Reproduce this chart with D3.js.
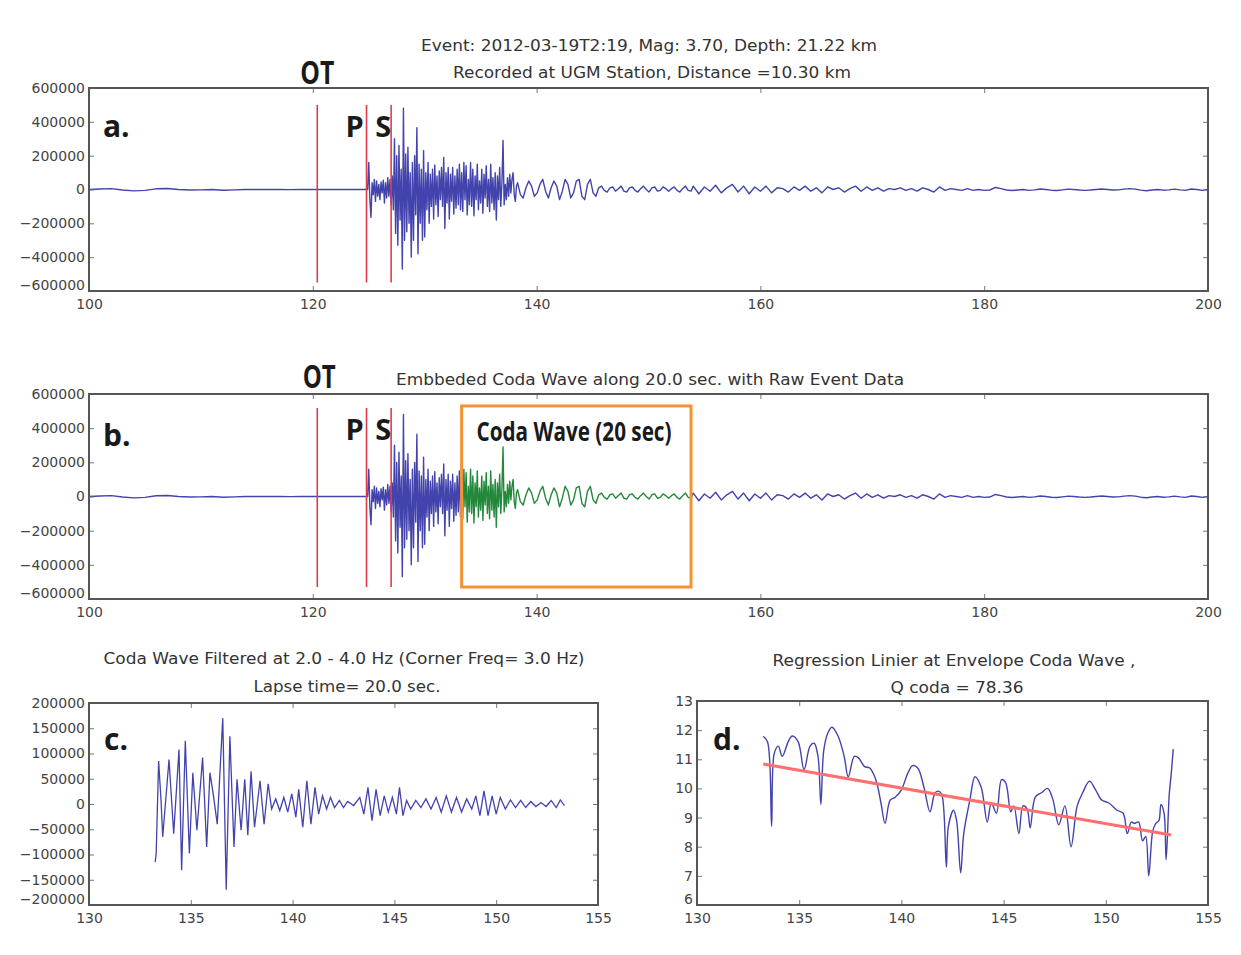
<!DOCTYPE html>
<html>
<head>
<meta charset="utf-8">
<script src="https://cdn.jsdelivr.net/npm/d3@7"></script>
<style>
  body { margin: 0; background: #fff; }
  text { font-family: "DejaVu Sans", sans-serif; }
</style>
</head>
<body>
<script>
// raw trace, split in pieces with their own sample step
const preEvent = [0, 3000, 5000, -3000, -8000, -5000, 4000, 6000, 0, -3000,
  -2000, 0, -4000, -2000, 0, 0, 1000, 0, -1000, 0, 0, 0, 0, 0, 0];           // 100 -> 124, step 1
const bodyWave = [0, 160000, -60000, -165000, 40000, -30000, 60000, -70000, 50000, -40000,
  30000, -60000, 45000, -20000, 55000, -80000, 40000, -50000, 70000, -40000,
  60000, -90000, 80000, -120000, 300000, -260000, 200000, -330000, 260000, -180000,
  120000, -470000, 480000, -300000, 210000, -250000, 250000, -200000, 100000, -400000,
  160000, -300000, 200000, -150000, 365000, -380000, 150000, -200000, 120000, -300000,
  230000, -280000, 100000, -120000, 160000, -200000, 90000, -100000, 120000, -175000,
  145000, -90000, 80000, -160000, 110000, -60000, 130000, -100000, 190000, -230000,
  100000, -80000, 130000, -175000, 90000, -70000, 130000, -145000, 80000, -110000,
  120000, -90000, 150000, -120000];                                          // 124.9 -> 133.2, step 0.1
const codaEarly = [100000, -130000, 160000, -60000, 140000, -150000, 60000, -90000, 160000, -100000,
  120000, -155000, 80000, -60000, 150000, -120000, 50000, -80000, 120000, -140000,
  90000, -50000, 140000, -100000, 60000, -130000, 150000, -80000, 70000, -120000,
  100000, -180000, 80000, -60000, 130000, -100000, 40000, 290000, -90000, 30000,
  -60000, 70000, -40000, 90000, -20000, 60000, 100000, -30000, -70000, 20000]; // 133.3 -> 138.2, step 0.1
const codaLate = [40000, -30000, -50000, 10000, 50000, 20000, -40000, -20000, 30000, 60000,
  -10000, -50000, 10000, 50000, 20000, -60000, -10000, 60000, 30000, -50000,
  -20000, 50000, 60000, -40000, -60000, 30000, 60000, -20000, -40000, 10000,
  20000, -5000, -15000, 10000, 15000, -10000, 5000, 20000, -10000, -15000,
  10000, 15000, -5000, -15000, 5000, 20000, 0, -15000, 10000, 15000,
  -10000, -5000, 15000, 5000, -10000, 5000, 15000, -5000, -15000, 5000,
  20000, -5000, -10000];                                                     // 138.3 -> 153.8, step 0.25
const tailWave = [20000, -25000, 15000, -10000, 25000, -20000, 10000, 30000, -15000, 20000,
  -25000, 15000, -10000, 20000, -20000, 10000, 5000, -15000, 15000, -5000,
  20000, -10000, 10000, -20000, 15000, 0, 10000, -15000, 5000, 20000,
  -10000, 15000, -5000, 10000, -10000, 5000, 0, 10000, -5000, 5000,
  -10000, 10000, 0, -15000, 15000, -5000, 5000, 0, -5000, 5000,
  -5000, 0, -5000, -3000, 12000, 5000, -3000, -6000, -3000, 0,
  -5000, -2000, 3000, 0, -4000, -6000, -2000, 2000, 0, -3000,
  -5000, -3000, 0, 3000, 0, -3000, -2000, 2000, 5000, 2000,
  -4000, -7000, -3000, 0, -4000, -2000, 2000, -2000, -5000, 3000,
  0, -5000, 0];                                                              // 154 -> 200, step 0.5

const phaseNames = ["OT", "P", "S"];
const phaseTimes = [120.4, 124.8, 127.0];
const codaStart = 133.3, codaEnd = 153.8;

// panel c: filtered coda
const filtTime = [133.25,133.3,133.42,133.54,133.62,133.93,134.16,134.42,134.55,134.73,
  134.93,135.1,135.3,135.58,135.78,135.94,136.1,136.3,136.57,136.74,
  136.92,137.12,137.27,137.47,137.65,137.8,137.96,138.13,138.4,138.6,
  138.8,138.97,139.17,139.37,139.57,139.76,139.96,140.16,140.3,140.5,
  140.7,140.9,141.1,141.28,141.47,141.67,141.86,142.06,142.3,142.5,
  142.7,143.0,143.3,143.5,143.7,143.9,144.1,144.3,144.5,144.7,
  144.9,145.1,145.25,145.42,145.6,145.8,146.05,146.3,146.55,146.8,
  147.05,147.3,147.55,147.8,148.05,148.3,148.55,148.8,149.0,149.2,
  149.4,149.6,149.8,150.0,150.2,150.45,150.7,150.95,151.2,151.45,
  151.7,151.95,152.2,152.45,152.7,152.95,153.15,153.35];
const filtAmp = [-115000,-98000,85000,6000,-65000,88000,-59000,108000,-131000,125000,
  -98000,62000,-52000,92000,-85000,62000,20000,-40000,170000,-170000,
  134000,-85000,49000,-52000,49000,-62000,65000,-46000,46000,-40000,
  40000,-10000,10000,-13000,13000,-16000,20000,-26000,29000,-46000,
  46000,-40000,33000,-20000,16000,-10000,13000,-7000,7000,-7000,
  5000,-3000,13000,-20000,33000,-33000,29000,-23000,16000,-16000,
  13000,-20000,33000,-23000,7000,-10000,7000,-7000,10000,-10000,
  13000,-16000,16000,-16000,13000,-16000,10000,-10000,16000,-23000,
  26000,-23000,16000,-20000,13000,-10000,8000,-7000,7000,-7000,
  5000,-5000,3000,-5000,7000,-7000,8000,-3000];

// panel d: envelope (ln) and the fitted line
const envTime = [133.24,133.45,133.65,133.78,133.98,134.17,134.46,134.66,134.95,135.24,
  135.53,135.73,135.92,136.06,136.2,136.4,136.6,136.9,137.2,137.4,
  137.7,137.9,138.2,138.45,138.75,139.0,139.2,139.45,139.7,140.0,
  140.3,140.55,140.8,141.1,141.4,141.65,141.85,142.0,142.2,142.3,
  142.55,142.7,142.9,143.05,143.35,143.6,143.9,144.2,144.4,144.65,
  144.9,145.1,145.35,145.5,145.75,145.95,146.15,146.3,146.55,146.85,
  147.15,147.4,147.7,148.0,148.3,148.6,148.9,149.2,149.5,149.8,
  150.15,150.55,150.85,151.05,151.25,151.4,151.6,151.8,151.95,152.1,
  152.3,152.45,152.6,152.7,152.85,152.95,153.1,153.2,153.3];
const envLn = [11.79,11.6,8.7,11.2,11.45,11.1,11.6,11.8,11.6,10.65,
  11.45,11.55,11.1,9.45,11.3,11.9,12.1,11.8,11.1,10.4,
  11.1,11.05,10.75,10.7,10.3,9.5,8.8,9.6,9.7,9.95,
  10.5,10.78,10.7,10.05,9.2,9.85,9.9,9.72,7.3,8.7,
  9.25,8.9,7.1,8.45,9.6,10.4,10.05,8.85,9.5,9.15,
  10.3,10.2,9.2,9.4,8.45,9.4,9.3,8.65,9.7,9.85,
  10.0,9.65,8.75,9.4,8.0,9.4,9.9,10.25,9.95,9.6,
  9.5,9.25,9.15,8.45,8.85,8.8,8.85,8.2,8.35,7.0,
  8.55,8.8,8.9,9.45,9.15,7.55,9.75,10.5,11.35];
const fitTime = [133.24, 153.2];
const fitLn = [10.84, 8.4];

const xTicksRaw = [100, 120, 140, 160, 180, 200];
const yTicksRaw = [-600000, -400000, -200000, 0, 200000, 400000, 600000];
const xTicksCoda = [130, 135, 140, 145, 150, 155];
const yTicksFilt = [-200000, -150000, -100000, -50000, 0, 50000, 100000, 150000, 200000];
const yTicksEnv = [6, 7, 8, 9, 10, 11, 12, 13];

const BLUE = "#4343ad", GREEN = "#23893a", RED = "#e23a4a", ORANGE = "#f39237", FIT = "#ff6f6f";

function seg(start, step, vals) { return vals.map((v, i) => [start + i * step, v]); }
const trace = [].concat(seg(100, 1, preEvent), seg(124.9, 0.1, bodyWave),
  seg(133.3, 0.1, codaEarly), seg(138.3, 0.25, codaLate), seg(154, 0.5, tailWave));

const svg = d3.select("body").append("svg").attr("width", 1241).attr("height", 955);

const minus = d => d < 0 ? "\u2212" + Math.abs(d) : String(d);

function makePanel(c) {
  const x = d3.scaleLinear().domain(c.xDom).range([c.l, c.r]);
  const y = d3.scaleLinear().domain(c.yDom).range([c.b, c.t]);
  const g = svg.append("g");
  const plot = g.append("g");
  const ax = g.append("g").attr("class", "axes");
  ax.append("g").attr("transform", `translate(0,${c.b})`)
    .call(d3.axisBottom(x).tickValues(c.xTicks).tickSizeInner(-5).tickSizeOuter(0).tickPadding(8));
  ax.append("g").attr("transform", `translate(0,${c.t})`)
    .call(d3.axisTop(x).tickValues(c.xTicks).tickSizeInner(-5).tickSizeOuter(0).tickFormat(""));
  const left = ax.append("g").attr("transform", `translate(${c.l},0)`)
    .call(d3.axisLeft(y).tickValues(c.yTicks).tickSizeInner(-5).tickSizeOuter(0).tickPadding(4).tickFormat(minus));
  ax.append("g").attr("transform", `translate(${c.r},0)`)
    .call(d3.axisRight(y).tickValues(c.yTicks).tickSizeInner(-5).tickSizeOuter(0).tickFormat(""));
  ax.selectAll(".domain").remove();
  ax.selectAll(".tick line").attr("stroke", "#777");
  ax.selectAll(".tick text").attr("fill", "#444").style("font-size", "14px")
    .style("font-family", "'DejaVu Sans', sans-serif");
  // lowest y label sits a little above the corner, as in the source
  left.selectAll(".tick text").filter(d => d === c.yDom[0]).attr("dy", "-0.1em");
  ax.append("rect").attr("x", c.l).attr("y", c.t).attr("width", c.r - c.l).attr("height", c.b - c.t)
    .attr("fill", "none").attr("stroke", "#555").attr("stroke-width", 2);
  return { x, y, plot, g };
}

function label(txt, x, y, size, opts = {}) {
  const t = svg.append("text").attr("x", x).attr("y", y).text(txt)
    .attr("text-anchor", opts.anchor || "middle")
    .attr("fill", opts.fill || "#333")
    .style("font-size", size + "px")
    .style("font-family", opts.family || "'DejaVu Sans', sans-serif")
    .style("font-weight", opts.bold ? "bold" : "normal");
  if (opts.len) t.attr("textLength", opts.len).attr("lengthAdjust", "spacingAndGlyphs");
  return t;
}
const BOLD = { bold: true, family: "'Open Sans', sans-serif", fill: "#1a1a1a" };

function rawPanel(c, withCoda) {
  const p = makePanel(Object.assign({ xDom: [100, 200], yDom: [-600000, 600000], xTicks: xTicksRaw, yTicks: yTicksRaw }, c));
  const line = d3.line().x(d => p.x(d[0])).y(d => p.y(d[1]));
  const draw = (pts, col) => p.plot.append("path").attr("d", line(pts)).attr("fill", "none")
    .attr("stroke", col).attr("stroke-width", 1.4).attr("stroke-linejoin", "round");
  if (withCoda) {
    draw(trace.filter(d => d[0] <= codaStart), BLUE);
    draw(trace.filter(d => d[0] >= codaEnd), BLUE);
    draw(trace.filter(d => d[0] >= codaStart && d[0] <= codaEnd), GREEN);
  } else {
    draw(trace, BLUE);
  }
  p.plot.selectAll("line.phase").data(phaseTimes).enter().append("line")
    .attr("x1", d => p.x(d)).attr("x2", d => p.x(d))
    .attr("y1", p.y(c.phaseTop)).attr("y2", p.y(c.phaseBot))
    .attr("stroke", RED).attr("stroke-width", 1.6);
  return p;
}

// panel a
const pa = rawPanel({ l: 89, r: 1208, t: 88, b: 291, phaseTop: 500000, phaseBot: -550000 }, false);
label("Event: 2012-03-19T2:19, Mag: 3.70, Depth: 21.22 km", 649, 51, 16, { len: 456 });
label("Recorded at UGM Station, Distance =10.30 km", 652, 78, 16, { len: 398 });
label(phaseNames[0], pa.x(phaseTimes[0]), 84, 32, Object.assign({ len: 34 }, BOLD));
label("a.", 103, 137, 30, Object.assign({ anchor: "start" }, BOLD));
label(phaseNames[1], pa.x(phaseTimes[1]) - 12, 137, 29, BOLD);
label(phaseNames[2], pa.x(phaseTimes[2]) - 8, 137, 29, BOLD);

// panel b
const pb = rawPanel({ l: 89, r: 1208, t: 394, b: 599, phaseTop: 518000, phaseBot: -530000 }, true);
pb.plot.append("rect")
  .attr("x", pb.x(codaStart)).attr("y", pb.y(530000))
  .attr("width", pb.x(codaEnd) - pb.x(codaStart)).attr("height", pb.y(-530000) - pb.y(530000))
  .attr("fill", "none").attr("stroke", ORANGE).attr("stroke-width", 3);
label("Embbeded Coda Wave along 20.0 sec. with Raw Event Data", 650, 385, 16, { len: 508 });
label(phaseNames[0], pb.x(phaseTimes[0]) + 2, 388, 32, Object.assign({ len: 33 }, BOLD));
label("b.", 103, 446, 30, Object.assign({ anchor: "start" }, BOLD));
label(phaseNames[1], pb.x(phaseTimes[1]) - 12, 440, 29, BOLD);
label(phaseNames[2], pb.x(phaseTimes[2]) - 8, 440, 29, BOLD);
label("Coda Wave (20 sec)", 574, 441, 27, Object.assign({ len: 195 }, BOLD));

// panel c
const pc = makePanel({ l: 89, r: 598, t: 703, b: 905, xDom: [130, 155], yDom: [-200000, 200000], xTicks: xTicksCoda, yTicks: yTicksFilt });
pc.plot.append("path")
  .attr("d", d3.line().x((d, i) => pc.x(filtTime[i])).y(d => pc.y(d))(filtAmp))
  .attr("fill", "none").attr("stroke", BLUE).attr("stroke-width", 1.3);
label("Coda Wave Filtered at 2.0 - 4.0 Hz (Corner Freq= 3.0 Hz)", 344, 664, 16, { len: 481 });
label("Lapse time= 20.0 sec.", 347, 692, 16, { len: 187 });
label("c.", 104, 750, 30, Object.assign({ anchor: "start" }, BOLD));

// panel d
const pd = makePanel({ l: 697, r: 1208, t: 701, b: 905, xDom: [130, 155], yDom: [6, 13], xTicks: xTicksCoda, yTicks: yTicksEnv });
pd.plot.append("path")
  .attr("d", d3.line().x((d, i) => pd.x(envTime[i])).y(d => pd.y(d)).curve(d3.curveCatmullRom.alpha(0.5))(envLn))
  .attr("fill", "none").attr("stroke", BLUE).attr("stroke-width", 1.4);
pd.plot.append("path")
  .attr("d", d3.line().x((d, i) => pd.x(fitTime[i])).y(d => pd.y(d))(fitLn))
  .attr("fill", "none").attr("stroke", FIT).attr("stroke-width", 3);
label("Regression Linier at Envelope Coda Wave ,", 954, 666, 16, { len: 363 });
label("Q coda = 78.36", 957, 693, 16, { len: 133 });
label("d.", 713, 750, 30, Object.assign({ anchor: "start" }, BOLD));
</script>
</body>
</html>
